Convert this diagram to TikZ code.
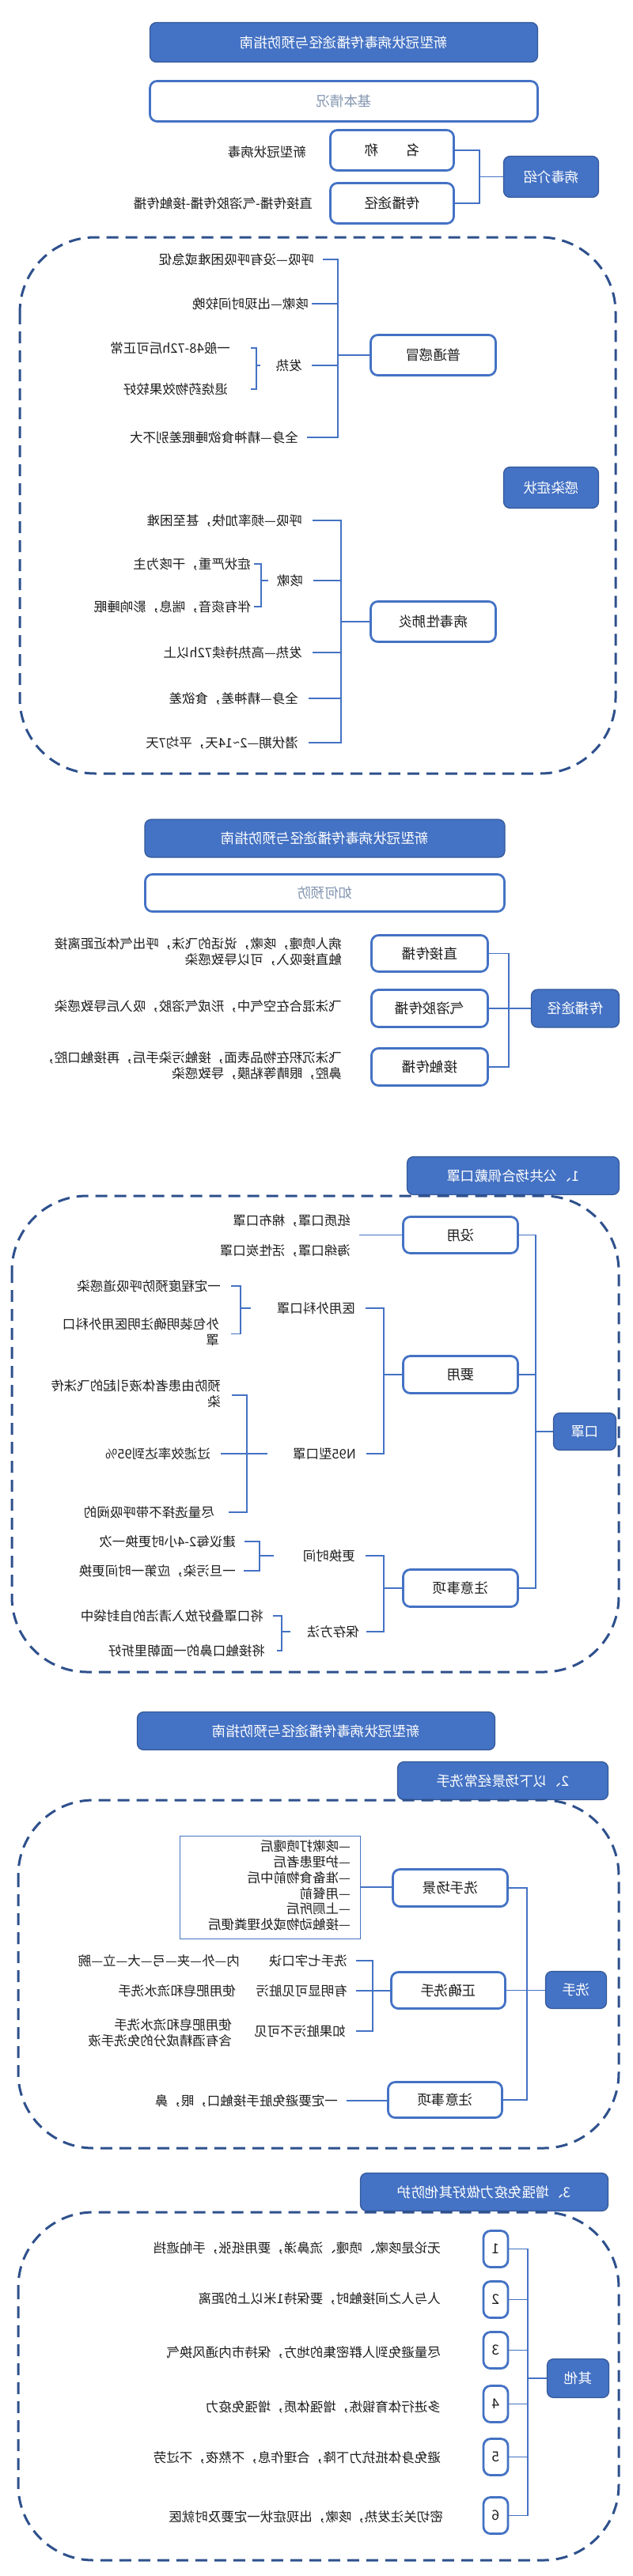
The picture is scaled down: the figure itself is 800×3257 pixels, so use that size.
\documentclass[tikz,border=0pt]{standalone}
\usepackage{fontspec}
\setmainfont{Noto Sans CJK SC}
\usepackage{graphicx}
\definecolor{cblue}{RGB}{68,114,196}
\definecolor{cbd}{RGB}{52,88,152}
\definecolor{cdash}{RGB}{46,80,140}
\definecolor{cgray}{RGB}{132,150,176}
\definecolor{ctext}{RGB}{30,30,30}
\newcommand{\fsA}{\fontsize{16.5}{20}\selectfont}
\newcommand{\fsB}{\fontsize{17.5}{21}\selectfont}
\newcommand{\mr}[1]{\reflectbox{#1}}
\newcommand{\ml}[1]{\reflectbox{\begin{tabular}{@{}l@{}}#1\end{tabular}}}
\tikzset{
  bbox/.style={draw=cbd, line width=1.2pt, fill=cblue, rounded corners=8pt, text=white, font=\fsB, inner sep=0pt},
  wbox/.style={draw=cblue, line width=2.8pt, fill=white, rounded corners=9pt, text=ctext, font=\fsB, inner sep=0pt},
  itm/.style={anchor=east, inner sep=0pt, text=ctext, font=\fsA},
  conn/.style={draw=cblue, line width=1.3pt},
  dbox/.style={draw=cdash, line width=3pt, dash pattern=on 15pt off 9pt, rounded corners=95pt},
  sz/.style 2 args={minimum width=#1pt, minimum height=#2pt}
}
\begin{document}
\begin{tikzpicture}[x=1pt,y=-1pt]
\fill[white] (0,0) rectangle (800,3257);
\useasboundingbox (0,0) rectangle (800,3257);

% ---------------- Section 1 ----------------
\node[bbox, sz={490}{50}] (t1) at (434.5,53.5) {\mr{新型冠状病毒传播途径与预防指南}};
\node[wbox, sz={490}{51}, text=cgray] (b1) at (434.5,128) {\mr{基本情况}};
\node[wbox, sz={156}{51}] (mc) at (495.5,190) {\mr{名\hspace{34pt}称}};
\node[wbox, sz={156}{51}] (mt) at (495.5,257) {\mr{传播途径}};
\node[bbox, sz={120}{52}] (vj) at (696.5,223.5) {\mr{病毒介绍}};
\coordinate (tr1) at (606,0);
\draw[conn] (mc.east) -- (mc.east -| tr1) -- (mt.east -| tr1) -- (mt.east);
\draw[conn] (vj.west) -- (vj.west -| tr1);
\node[itm] (x1) at (387,192) {\mr{新型冠状病毒}};
\node[itm] (x2) at (395,257) {\mr{直接传播-气溶胶传播-接触传播}};

\node[bbox, sz={120}{52}] (gz) at (696.5,616.5) {\mr{感染症状}};

\node[wbox, sz={158}{51}] (pg) at (547.5,449) {\mr{普通感冒}};
\coordinate (tr2) at (427,0);
\node[itm] (p1) at (397,328) {\mr{呼吸—没有呼吸困难或急促}};
\node[itm] (p2) at (390,384) {\mr{咳嗽—出现时间较晚}};
\node[itm] (p3) at (382,462) {\mr{发热}};
\node[itm] (p4) at (377,553) {\mr{全身—精神食欲睡眠差别不大}};
\draw[conn] ([xshift=11pt]p1.east) -- (p1.east -| tr2) -- (p4.east -| tr2) -- ([xshift=11pt]p4.east);
\draw[conn] ([xshift=4pt]p2.east) -- (p2.east -| tr2);
\draw[conn] ([xshift=12pt]p3.east) -- (p3.east -| tr2);
\draw[conn] (pg.west) -- (pg.west -| tr2);
\node[itm] (p31) at (291,440) {\mr{一般48-72h后可正常}};
\node[itm] (p32) at (288,492) {\mr{退烧药物效果较好}};
\coordinate (bk1) at (324,0);
\draw[conn] (p31.east -| bk1) ++(-7,0) -- (p31.east -| bk1) -- (p32.east -| bk1) -- ++(-7,0);
\draw[conn] (p3.east -| bk1) -- ++(5,0);

\node[wbox, sz={158}{51}] (pf) at (547.5,786) {\mr{病毒性肺炎}};
\coordinate (tr3) at (431,0);
\node[itm] (q1) at (382,658) {\mr{呼吸—频率加快，甚至困难}};
\node[itm] (q2) at (383,734) {\mr{咳嗽}};
\node[itm] (q3) at (382,825) {\mr{发热—高热持续72h以上}};
\node[itm] (q4) at (377,883) {\mr{全身—精神差，食欲差}};
\node[itm] (q5) at (377,939) {\mr{潜伏期—2\textasciitilde14天，平均7天}};
\draw[conn] ([xshift=13pt]q1.east) -- (q1.east -| tr3) -- (q5.east -| tr3) -- ([xshift=13pt]q5.east);
\draw[conn] ([xshift=13pt]q2.east) -- (q2.east -| tr3);
\draw[conn] ([xshift=13pt]q3.east) -- (q3.east -| tr3);
\draw[conn] ([xshift=13pt]q4.east) -- (q4.east -| tr3);
\draw[conn] (pf.west) -- (pf.west -| tr3);
\node[itm] (q21) at (317,713) {\mr{症状严重，干咳为主}};
\node[itm] (q22) at (317,767) {\mr{伴有痰音，喘息，影响睡眠}};
\coordinate (bk2) at (330,0);
\draw[conn] (q21.east -| bk2) ++(-9,0) -- (q21.east -| bk2) -- (q22.east -| bk2) -- ++(-9,0);
\draw[conn] (q2.east -| bk2) -- ++(9,0);

\draw[dbox] (25,300) rectangle (778,978);

% ---------------- Section 2 ----------------
\node[bbox, sz={455}{48}] (t2) at (410.5,1060) {\mr{新型冠状病毒传播途径与预防指南}};
\node[wbox, sz={454}{47}, text=cgray] (b2) at (410.5,1129) {\mr{如何预防}};
\node[wbox, sz={147}{46}] (zj) at (543,1205.5) {\mr{直接传播}};
\node[wbox, sz={147}{47}] (qr) at (543,1275) {\mr{气溶胶传播}};
\node[wbox, sz={147}{47}] (jc) at (543,1349) {\mr{接触传播}};
\node[bbox, sz={111}{48}] (cb) at (727,1275) {\mr{传播途径}};
\coordinate (tr4) at (643,0);
\draw[conn] (zj.east) -- (zj.east -| tr4) -- (jc.east -| tr4) -- (jc.east);
\draw[conn] (qr.east) -- (qr.east -| cb.west);
\node[itm] (r1) at (432,1205.5) {\ml{病人喷嚏，咳嗽，说话的飞沫，呼出气体近距离接\\触直接吸入，可以导致感染}};
\node[itm] (r2) at (432,1272) {\mr{飞沫混合在空气中，形成气溶胶，吸入后导致感染}};
\node[itm] (r3) at (432,1349.5) {\ml{飞沫沉积在物品表面，接触污染手后，再接触口腔，\\鼻腔，眼睛等粘膜，导致感染}};

% ---------------- Section 3 ----------------
\node[bbox, sz={268}{48}] (m1) at (648.5,1486.5) {\mr{1、公共场合佩戴口罩}};
\node[wbox, sz={145}{46}] (my) at (582,1561.5) {\mr{没用}};
\node[wbox, sz={145}{47}] (yy) at (582,1738) {\mr{要用}};
\node[wbox, sz={145}{47}] (zy) at (582,2008) {\mr{注意事项}};
\node[bbox, sz={79}{47}] (kz) at (739,1810) {\mr{口罩}};
\coordinate (tr5) at (677,0);
\draw[conn] (my.east) -- (my.east -| tr5) -- (zy.east -| tr5) -- (zy.east);
\draw[conn] (yy.east) -- (yy.east -| tr5);
\draw[conn] (kz.west) -- (kz.west -| tr5);
\coordinate (myl) at (454,1561.5);
\draw[conn] (my.west) -- (myl);
\node[itm] (s1) at (443,1543) {\mr{纸质口罩，棉布口罩}};
\node[itm] (s2) at (443,1581) {\mr{海绵口罩，活性炭口罩}};
\coordinate (tr6) at (485,0);
\node[itm] (s3) at (449,1654) {\mr{医用外科口罩}};
\node[itm] (s4) at (450,1838) {\mr{N95型口罩}};
\draw[conn] ([xshift=13pt]s3.east) -- (s3.east -| tr6) -- (s4.east -| tr6) -- ([xshift=13pt]s4.east);
\draw[conn] (yy.west) -- (yy.west -| tr6);
\node[itm] (s31) at (279,1626) {\mr{一定程度预防呼吸道感染}};
\node[itm] (s32) at (277,1686.5) {\ml{外包装明确注明医用外科口\\罩}};
\coordinate (bk3) at (304,0);
\draw[conn] (s31.east -| bk3) ++(-12,0) -- (s31.east -| bk3) -- (s32.east -| bk3) -- ++(-12,0);
\draw[conn] (s3.east -| bk3) -- ++(13,0);
\node[itm] (s41) at (279,1764) {\ml{预防由患者体液引起的飞沫传\\染}};
\node[itm] (s42) at (266,1838) {\mr{过滤效率达到95\%}};
\node[itm] (s43) at (271,1912) {\mr{尽量选择不带呼吸阀的}};
\coordinate (bk4) at (312,0);
\draw[conn] (s41.east -| bk4) ++(-19,0) -- (s41.east -| bk4) -- (s43.east -| bk4) -- ++(-23,0);
\draw[conn] ([xshift=13pt]s42.east) -- ++(59,0);
\node[itm] (s5) at (449,1967) {\mr{更换时间}};
\node[itm] (s6) at (454,2063) {\mr{保存方法}};
\draw[conn] ([xshift=13pt]s5.east) -- (s5.east -| tr6) -- (s6.east -| tr6) -- ([xshift=9pt]s6.east);
\draw[conn] (zy.west) -- (zy.west -| tr6);
\node[itm] (s51) at (298,1949) {\mr{建议每2-4小时更换一次}};
\node[itm] (s52) at (298,1986) {\mr{一旦污染，应第一时间更换}};
\coordinate (bk5) at (328,0);
\draw[conn] (s51.east -| bk5) ++(-19,0) -- (s51.east -| bk5) -- (s52.east -| bk5) -- ++(-20,0);
\draw[conn] (s5.east -| bk5) -- ++(18,0);
\node[itm] (s61) at (333,2043) {\mr{将口罩叠好放入清洁的自封袋中}};
\node[itm] (s62) at (335,2087) {\mr{将接触口鼻的一面朝里折好}};
\coordinate (bk6) at (356,0);
\draw[conn] (s61.east -| bk6) ++(-11,0) -- (s61.east -| bk6) -- (s62.east -| bk6) -- ++(-6,0);
\draw[conn] (s6.east -| bk6) -- ++(11,0);

\draw[dbox] (15,1512) rectangle (782,2114);

% ---------------- Section 4 ----------------
\node[bbox, sz={452}{48}] (t3) at (399.5,2188.5) {\mr{新型冠状病毒传播途径与预防指南}};
\node[bbox, sz={266}{48}] (w1) at (635.5,2251.5) {\mr{2、以下场景经常洗手}};
\node[draw=cblue, line width=1pt, sz={228}{130}, inner sep=0pt] (ls) at (341,2386) {};
\node[itm, font=\fontsize{16.5}{19.6}\selectfont] (lt) at (443,2386) {\ml{—咳嗽打喷嚏后\\—护理患者后\\—准备食物前中后\\—用餐前\\—上厕所后\\—接触动物或处理粪便后}};
\node[wbox, sz={145}{47}] (xc) at (569,2387) {\mr{洗手场景}};
\draw[conn] (ls.east) -- (ls.east -| xc.west);
\node[bbox, sz={77}{47}] (xs) at (728,2516) {\mr{洗手}};
\node[wbox, sz={144}{46}] (zq) at (566.5,2516.5) {\mr{正确洗手}};
\node[wbox, sz={144}{45}] (zy2) at (562.5,2655) {\mr{注意事项}};
\coordinate (tr7) at (666,0);
\draw[conn] (xc.east) -- (xc.east -| tr7) -- (zy2.east -| tr7) -- (zy2.east);
\draw[conn] (zq.east) -- (zq.east -| xs.west);
\node[itm] (u1) at (439,2479) {\mr{洗手七字口诀}};
\node[itm] (u2) at (439,2517) {\mr{有明显可见脏污}};
\node[itm] (u3) at (437,2568) {\mr{如果脏污不可见}};
\coordinate (bk7) at (471,0);
\draw[conn] ([xshift=11pt]u1.east) -- (u1.east -| bk7) -- (u3.east -| bk7) -- ([xshift=13pt]u3.east);
\draw[conn] ([xshift=11pt]u2.east) -- (u2.east -| zq.west);
\node[itm] (u11) at (303,2479) {\mr{内—外—夹—弓—大—立—腕}};
\node[itm] (u21) at (298,2517) {\mr{使用肥皂和流水洗手}};
\node[itm] (u31) at (293,2572.5) {\ml{使用肥皂和流水洗手\\含有酒精成分的免洗手液}};
\node[itm] (u4) at (427,2656) {\mr{一定要避免脏手接触口，眼，鼻}};
\draw[conn] ([xshift=11pt]u4.east) -- (u4.east -| zy2.west);

\draw[dbox] (23,2276) rectangle (782,2716);

% ---------------- Section 5 ----------------
\node[bbox, sz={313}{48}] (o1) at (612,2771.5) {\mr{3、增强免疫力做好其他防护}};
\foreach \i/\y in {1/2843.5,2/2907.5,3/2971.5,4/3039.5,5/3106.5,6/3180.5}
  \node[wbox, sz={31}{46}] (n\i) at (626.5,\y) {\mr{\i}};
\node[bbox, sz={78}{49}] (qt) at (730.5,3007) {\mr{其他}};
\coordinate (tr8) at (667,0);
\draw[conn] (n1.east) -- (n1.east -| tr8) -- (n6.east -| tr8) -- (n6.east);
\foreach \i in {2,...,5} \draw[conn] (n\i.east) -- (n\i.east -| tr8);
\draw[conn] (qt.west) -- (qt.west -| tr8);
\node[itm] (v1) at (557,2842) {\mr{无论是咳嗽、喷嚏、流鼻涕，要用纸张，手帕遮挡}};
\node[itm] (v2) at (557,2906) {\mr{人与人之间接触时，要保持1米以上的距离}};
\node[itm] (v3) at (557,2974) {\mr{尽量避免到人群密集的地方，保持市内通风换气}};
\node[itm] (v4) at (557,3043) {\mr{多进行体育锻炼，增强体质，增强免疫力}};
\node[itm] (v5) at (557,3107) {\mr{避免身体抵抗力下降，合理作息，不熬夜，不过劳}};
\node[itm] (v6) at (560,3182) {\mr{密切关注发热，咳嗽，出现症状一定要及时就医}};

\draw[dbox] (23,2797) rectangle (782,3237);
\end{tikzpicture}
\end{document}
